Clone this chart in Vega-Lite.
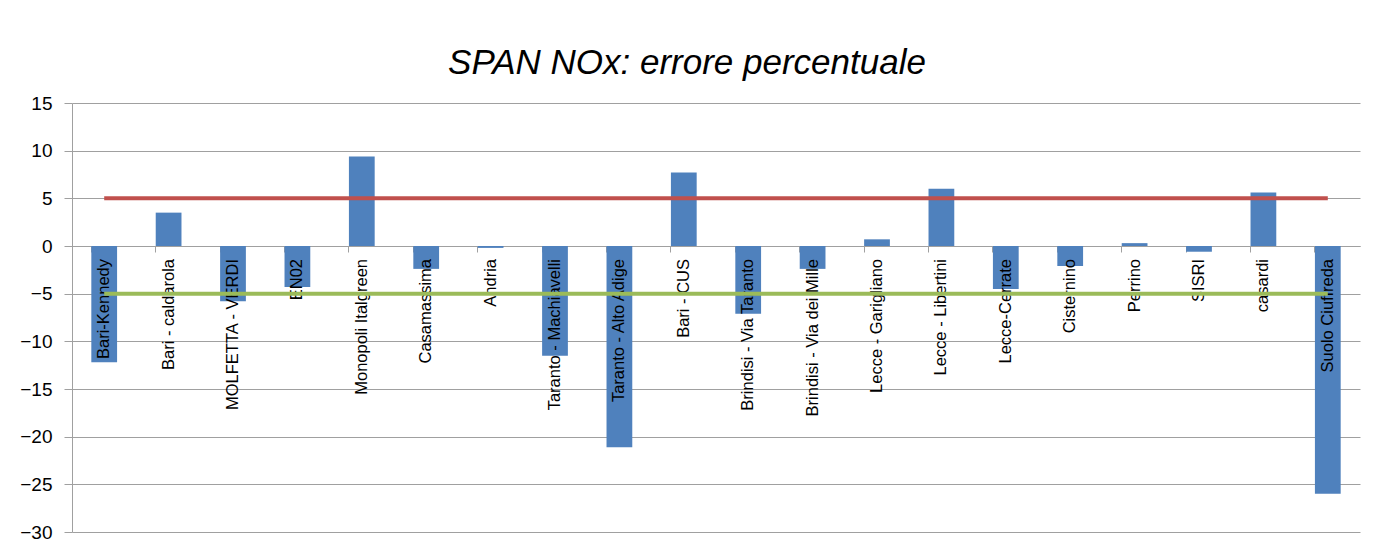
{
  "$schema": "https://vega.github.io/schema/vega-lite/v6.json",
  "width": 1288,
  "height": 429,
  "autosize": "none",
  "padding": {"left": 72, "top": 103, "right": 31, "bottom": 22},
  "background": "white",
  "title": {
    "text": "SPAN NOx: errore percentuale",
    "font": "Liberation Sans",
    "fontSize": 35,
    "fontStyle": "italic",
    "fontWeight": "normal",
    "color": "#000000",
    "anchor": "middle",
    "dx": -29,
    "offset": 13
  },
  "data": {
    "values": [
      {"site": "Bari-Kennedy", "value": -12.2, "upper": 5, "lower": -5},
      {"site": "Bari - caldarola", "value": 3.5, "upper": 5, "lower": -5},
      {"site": "MOLFETTA - VERDI", "value": -5.8, "upper": 5, "lower": -5},
      {"site": "EN02", "value": -4.3, "upper": 5, "lower": -5},
      {"site": "Monopoli Italgreen", "value": 9.4, "upper": 5, "lower": -5},
      {"site": "Casamassima", "value": -2.4, "upper": 5, "lower": -5},
      {"site": "Andria", "value": -0.2, "upper": 5, "lower": -5},
      {"site": "Taranto - Machiavelli", "value": -11.5, "upper": 5, "lower": -5},
      {"site": "Taranto - Alto Adige", "value": -21.1, "upper": 5, "lower": -5},
      {"site": "Bari - CUS", "value": 7.7, "upper": 5, "lower": -5},
      {"site": "Brindisi - Via Taranto", "value": -7.1, "upper": 5, "lower": -5},
      {"site": "Brindisi - Via dei Mille", "value": -2.4, "upper": 5, "lower": -5},
      {"site": "Lecce - Garigliano", "value": 0.7, "upper": 5, "lower": -5},
      {"site": "Lecce - Libertini", "value": 6.0, "upper": 5, "lower": -5},
      {"site": "Lecce-Cerrate", "value": -4.5, "upper": 5, "lower": -5},
      {"site": "Cisternino", "value": -2.1, "upper": 5, "lower": -5},
      {"site": "Perrino", "value": 0.3, "upper": 5, "lower": -5},
      {"site": "SISRI", "value": -0.6, "upper": 5, "lower": -5},
      {"site": "casardi", "value": 5.6, "upper": 5, "lower": -5},
      {"site": "Suolo Ciuffreda", "value": -26.0, "upper": 5, "lower": -5}
    ]
  },
  "encoding": {
    "x": {
      "field": "site",
      "type": "nominal",
      "sort": null,
      "scale": {"paddingInner": 0.6, "paddingOuter": 0.3},
      "axis": {
        "title": null,
        "labels": false,
        "offset": -286,
        "bandPosition": 0,
        "tickSize": 6,
        "tickColor": "#A0A0A0",
        "domainColor": "#A0A0A0",
        "grid": false
      }
    }
  },
  "layer": [
    {
      "mark": {"type": "bar", "color": "#4F81BD"},
      "encoding": {
        "y": {
          "field": "value",
          "type": "quantitative",
          "scale": {"domain": [-30, 15], "nice": false, "zero": false},
          "axis": {
            "title": null,
            "values": [-30, -25, -20, -15, -10, -5, 0, 5, 10, 15],
            "labelFont": "Liberation Sans",
            "labelFontSize": 19,
            "labelColor": "#000000",
            "labelPadding": 12,
            "tickSize": 8,
            "tickColor": "#A0A0A0",
            "domainColor": "#A0A0A0",
            "gridColor": "#A0A0A0",
            "grid": true
          }
        }
      }
    },
    {
      "mark": {
        "type": "text",
        "angle": 270,
        "align": "right",
        "baseline": "middle",
        "dx": -13,
        "font": "Liberation Sans",
        "fontSize": 16.5,
        "color": "#000000"
      },
      "encoding": {
        "y": {"datum": 0, "type": "quantitative"},
        "text": {"field": "site"}
      }
    },
    {
      "mark": {"type": "line", "color": "#C0504D", "strokeWidth": 4},
      "encoding": {
        "y": {"field": "upper", "type": "quantitative"}
      }
    },
    {
      "mark": {"type": "line", "color": "#9BBB59", "strokeWidth": 4},
      "encoding": {
        "y": {"field": "lower", "type": "quantitative"}
      }
    }
  ],
  "config": {
    "view": {"stroke": null}
  }
}
